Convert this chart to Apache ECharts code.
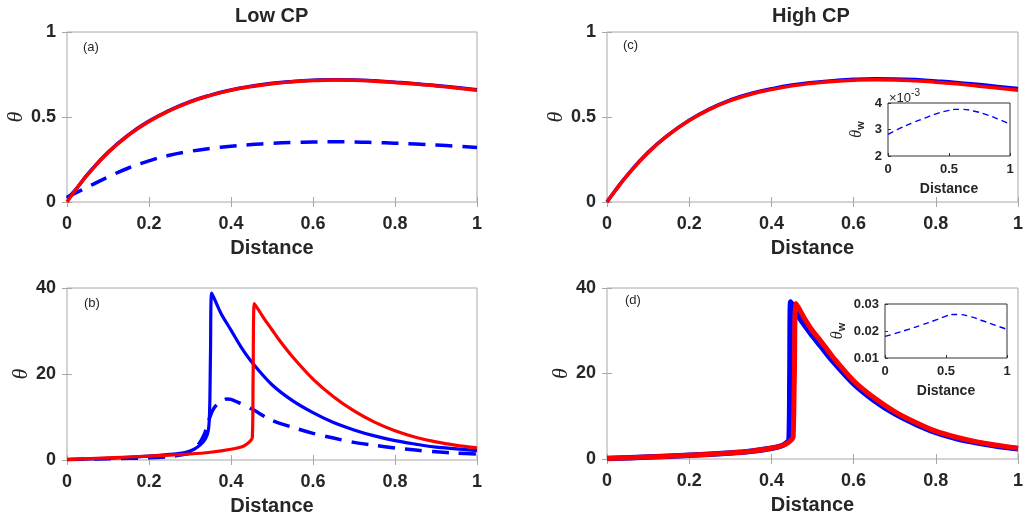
<!DOCTYPE html>
<html><head><meta charset="utf-8">
<script src="https://cdn.jsdelivr.net/npm/echarts@6/dist/echarts.min.js"></script>
<style>html,body{margin:0;padding:0;background:#fff}#c{width:1026px;height:521px}</style>
</head><body><div id="c"></div>
<script>
// ---------- DATA ----------
// Panel (a) Low CP, top
const aX      = [0,0.02,0.05,0.1,0.15,0.2,0.25,0.3,0.35,0.4,0.45,0.5,0.55,0.6,0.65,0.7,0.75,0.8,0.85,0.9,0.95,1];
const aRed    = [0,0.068,0.16,0.29,0.393,0.474,0.537,0.588,0.627,0.657,0.679,0.696,0.707,0.714,0.717,0.716,0.711,0.703,0.694,0.683,0.671,0.658];
const aBlue   = [0.02,0.07,0.162,0.292,0.395,0.476,0.539,0.59,0.629,0.659,0.681,0.698,0.709,0.716,0.719,0.718,0.713,0.705,0.696,0.685,0.673,0.66];
const aBlueDash = [0.027,0.052,0.088,0.147,0.2,0.242,0.275,0.298,0.315,0.328,0.338,0.345,0.35,0.353,0.354,0.353,0.35,0.346,0.341,0.335,0.328,0.32];
// Panel (c) High CP, top
const cX      = aX;
const cRed    = [0,0.066,0.158,0.29,0.395,0.479,0.545,0.596,0.634,0.661,0.683,0.698,0.709,0.716,0.719,0.718,0.713,0.705,0.695,0.683,0.67,0.657];
const cBlue   = [0,0.067,0.16,0.292,0.397,0.481,0.548,0.6,0.638,0.666,0.688,0.703,0.714,0.722,0.725,0.724,0.72,0.712,0.703,0.692,0.68,0.667];
// Inset of (c): theta_w (x 10^-3)
const icX     = [0,0.1,0.2,0.3,0.4,0.5,0.55,0.6,0.7,0.8,0.9,1];
const icW     = [2.82,3.05,3.25,3.43,3.6,3.72,3.76,3.76,3.7,3.57,3.4,3.2];
// Panel (b) Low CP, bottom
const bBlueX  = [0,0.1,0.2,0.25,0.29,0.31,0.325,0.338,0.345,0.348,0.35,0.353,0.375,0.4,0.425,0.453,0.5,0.55,0.6,0.65,0.7,0.75,0.8,0.85,0.9,0.95,1];
const bBlue   = [0.1,0.4,0.9,1.3,1.8,2.5,3.5,5,7,12,25,38.8,34.2,30.2,26.2,22.5,17.5,13.8,11,8.7,7,5.6,4.5,3.7,3,2.6,2.2];
const bDashX  = [0,0.1,0.2,0.25,0.28,0.3,0.32,0.335,0.345,0.355,0.37,0.39,0.4,0.42,0.45,0.5,0.55,0.6,0.65,0.7,0.75,0.8,0.85,0.9,0.95,1];
const bDash   = [0.1,0.3,0.5,0.8,1.2,1.7,3.5,6,9,11.5,13.3,14.2,14.1,13.3,11.9,9.2,7.6,6.2,5.1,4.1,3.4,2.8,2.3,1.9,1.6,1.4];
const bRedX   = [0,0.1,0.2,0.3,0.35,0.4,0.43,0.445,0.452,0.454,0.457,0.48,0.5,0.52,0.55,0.6,0.65,0.7,0.75,0.8,0.85,0.9,0.95,1];
const bRed    = [0.1,0.5,0.9,1.4,1.8,2.5,3.2,4.2,5.2,20,36.4,33,30.3,27.6,24,18.8,14.7,11.4,8.8,6.8,5.3,4.2,3.4,2.8];
// Panel (d) High CP, bottom
const dBlueX  = [0,0.1,0.2,0.3,0.35,0.4,0.425,0.437,0.443,0.445,0.447,0.47,0.5,0.52,0.55,0.6,0.65,0.7,0.75,0.8,0.85,0.9,0.95,1];
const dBlue   = [0.1,0.45,0.9,1.4,1.8,2.5,3.1,3.8,4.6,20,36.7,32.8,28.8,26.4,22.8,17.6,13.7,10.6,8.2,6.2,4.8,3.8,3,2.4];
const dRedX   = [0,0.1,0.2,0.3,0.35,0.4,0.425,0.44,0.45,0.453,0.456,0.46,0.48,0.5,0.52,0.55,0.6,0.65,0.7,0.75,0.8,0.85,0.9,0.95,1];
const dRed    = [0.1,0.45,0.9,1.4,1.8,2.5,3.1,3.8,4.6,5.2,20,36.4,33,30,27.6,23.8,18.3,14.3,11.1,8.6,6.5,5.1,4,3.2,2.5];
// Inset of (d): theta_w
const idX     = [0,0.1,0.2,0.3,0.4,0.5,0.55,0.6,0.7,0.8,0.9,1];
const idW     = [0.018,0.0193,0.0207,0.0222,0.0238,0.0255,0.0261,0.0261,0.0253,0.0238,0.0222,0.0206];
// Titles / labels
const colTitles = ['Low CP','High CP'];
const panelTags = ['(a)','(b)','(c)','(d)'];

// ---------- CHART ----------
const zip = (xs, ys) => xs.map((x, i) => [x, ys[i]]);
const FONT = 'Liberation Sans, Arial, sans-serif';
const TXT = '#262626';
const RED = '#ff0000', BLUE = '#0000ff';

const grids = [
  {left:67,  top:32,  width:410, height:170},  // a
  {left:67,  top:288, width:410, height:172},  // b
  {left:607, top:32,  width:411, height:170},  // c
  {left:607, top:288, width:411, height:171},  // d
  {left:888, top:103, width:122, height:53},   // inset c
  {left:885, top:304, width:122, height:54}    // inset d
].map((g, i) => Object.assign({show:true, backgroundColor: i < 4 ? 'transparent' : '#fff', borderWidth:1,
     borderColor: i < 4 ? '#a8a8a8' : '#333333', z: i < 4 ? 2 : 10}, g));

const xAxes = [], yAxes = [];
function mainAxes(gi, ymax, yint) {
  const tick = {show:true, inside:true, length:5, lineStyle:{color:'#a8a8a8'}};
  xAxes.push({gridIndex:gi, type:'value', min:0, max:1, interval:0.2, position:'bottom', z:3,
    axisLine:{show:false}, axisTick:tick, splitLine:{show:false},
    axisLabel:{fontSize:18, fontWeight:'bold', color:TXT, fontFamily:FONT, margin:13},
    name:'Distance', nameLocation:'middle', nameGap:36,
    nameTextStyle:{fontSize:20, fontWeight:'bold', color:TXT, fontFamily:FONT}});
  xAxes.push({gridIndex:gi, type:'value', min:0, max:1, interval:0.2, position:'top', z:3,
    axisLine:{show:false}, axisTick:tick, splitLine:{show:false}, axisLabel:{show:false}});
  yAxes.push({gridIndex:gi, type:'value', min:0, max:ymax, interval:yint, position:'left', z:3,
    axisLine:{show:false}, axisTick:tick, splitLine:{show:false},
    axisLabel:{fontSize:18, fontWeight:'bold', color:TXT, fontFamily:FONT, margin:11},
    name:'θ', nameLocation:'middle', nameGap:30, nameRotate:90,
    nameTextStyle:{fontSize:22, fontStyle:'italic', color:TXT, fontFamily:'Liberation Serif, serif'}});
  yAxes.push({gridIndex:gi, type:'value', min:0, max:ymax, interval:yint, position:'right', z:3,
    axisLine:{show:false}, axisTick:tick, splitLine:{show:false}, axisLabel:{show:false}});
}
mainAxes(0, 1, 0.5);
mainAxes(1, 40, 20);
mainAxes(2, 1, 0.5);
mainAxes(3, 40, 20);
function insetAxes(gi, ymin, ymax, yint, fmt, gap) {
  const tick = {show:true, inside:true, length:3, lineStyle:{color:'#333'}};
  xAxes.push({gridIndex:gi, type:'value', min:0, max:1, interval:0.5, position:'bottom', z:12,
    axisLine:{show:false}, axisTick:tick, splitLine:{show:false},
    axisLabel:{fontSize:13, fontWeight:'bold', color:TXT, fontFamily:FONT, margin:7},
    name:'Distance', nameLocation:'middle', nameGap:26,
    nameTextStyle:{fontSize:14, fontWeight:'bold', color:TXT, fontFamily:FONT}});
  yAxes.push({gridIndex:gi, type:'value', min:ymin, max:ymax, interval:yint, position:'left', z:12,
    axisLine:{show:false}, axisTick:tick, splitLine:{show:false},
    axisLabel:{fontSize:13, fontWeight:'bold', color:TXT, fontFamily:FONT, margin:6, formatter:fmt},
    name:'{a|θ}{b|w}', nameLocation:'middle', nameGap:gap, nameRotate:90,
    nameTextStyle:{color:TXT, rich:{
      a:{fontSize:16, fontStyle:'italic', fontFamily:'Liberation Serif, serif', color:TXT},
      b:{fontSize:11, fontWeight:'bold', fontFamily:FONT, color:TXT, padding:[8,0,0,0]}}}});
}
insetAxes(4, 2, 4, 1, v => String(Math.round(v)), 22);
insetAxes(5, 0.01, 0.03, 0.01, v => v.toFixed(2), 38);

// axis indices: main grid gi -> x bottom 2*gi, y left 2*gi ; insets -> x 8,9 ; y 8,9
function line(xi, yi, xs, ys, color, width, dash, smooth, z) {
  return {type:'line', xAxisIndex:xi, yAxisIndex:yi, data:zip(xs, ys), showSymbol:false,
    smooth:smooth, z:z, silent:true,
    lineStyle:{color:color, width:width, type:dash || 'solid', cap:'butt', join:'round'}};
}
const series = [
  line(0, 0, aX, aBlue, BLUE, 3.5, null, 0.5, 3),
  line(0, 0, aX, aBlueDash, BLUE, 3.5, [17, 10], 0.5, 4),
  line(0, 0, aX, aRed, RED, 3.5, null, 0.5, 5),
  line(2, 2, bBlueX, bBlue, BLUE, 3.2, null, 0.3, 3),
  line(2, 2, bDashX, bDash, BLUE, 3.5, [17, 10], 0.3, 4),
  line(2, 2, bRedX, bRed, RED, 3.2, null, 0.3, 5),
  line(4, 4, cX, cBlue, BLUE, 3.5, null, 0.5, 3),
  line(4, 4, cX, cRed, RED, 3.5, null, 0.5, 5),
  line(6, 6, dBlueX, dBlue, BLUE, 5.5, null, 0.3, 3),
  line(6, 6, dRedX, dRed, RED, 5, null, 0.3, 5),
  line(8, 8, icX, icW, BLUE, 1.4, [6, 4], 0.5, 13),
  line(9, 9, idX, idW, BLUE, 1.4, [6, 4], 0.5, 13)
];

const tagPos = [[83,49],[84,305],[623,47],[625,302]];
const graphic = [
  {type:'text', left:272 - 37, top:6, z:20, style:{text:colTitles[0], font:'bold 20px ' + FONT, fill:TXT}},
  {type:'text', left:812 - 40, top:6, z:20, style:{text:colTitles[1], font:'bold 20px ' + FONT, fill:TXT}},
  {type:'text', left:889, top:88, z:20, style:{text:'{a|×10}{b|-3}', rich:{
      a:{font:'13px ' + FONT, fill:TXT, padding:[4,0,0,0]},
      b:{font:'10px ' + FONT, fill:TXT, padding:[0,0,6,0]}}}}
].concat(panelTags.map((t, i) => ({type:'text', left:tagPos[i][0], top:tagPos[i][1] - 8, z:20,
  style:{text:t, font:'13px ' + FONT, fill:TXT}})));

const chart = echarts.init(document.getElementById('c'), null, {renderer:'canvas'});
chart.setOption({animation:false, backgroundColor:'#fff', grid:grids, xAxis:xAxes, yAxis:yAxes,
  series:series, graphic:graphic});
</script></body></html>
